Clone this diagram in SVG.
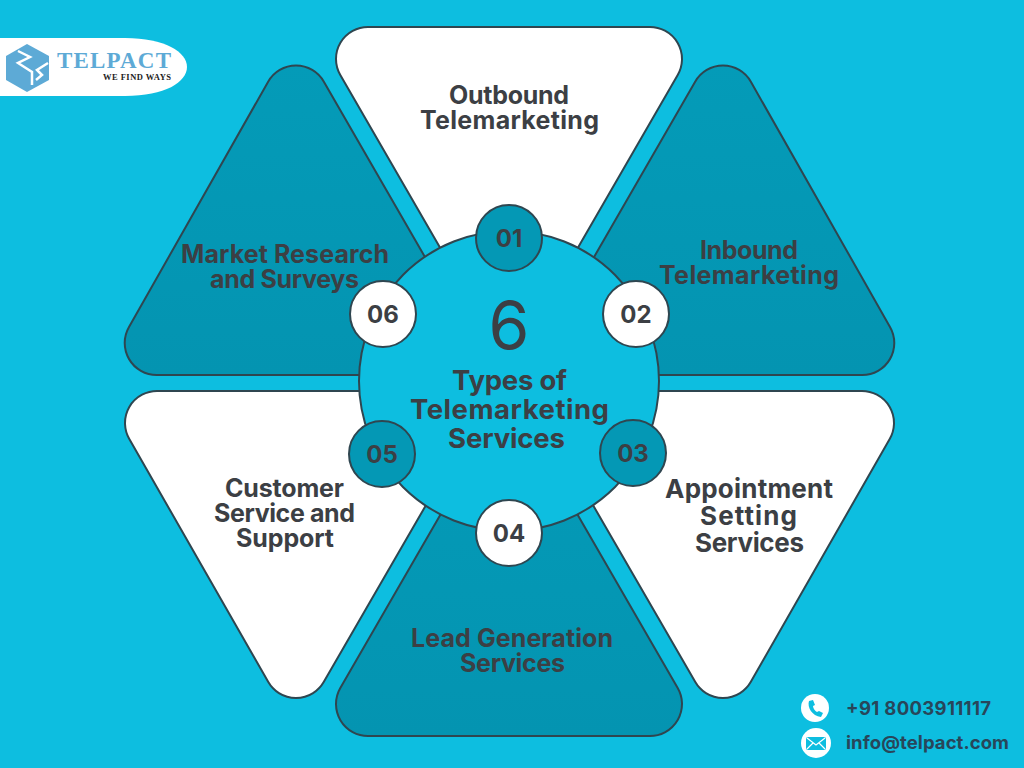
<svg xmlns="http://www.w3.org/2000/svg" width="1024" height="768" viewBox="0 0 1024 768">
<defs>
<style>
.t{font-family:"Inter","Liberation Sans",sans-serif;font-weight:700;fill:#3c3f44;text-anchor:middle}
.seg{stroke:#2f4650;stroke-width:2}
.w{fill:#fff}
.d{fill:#0498b5}
.n{stroke:#2f4650;stroke-width:2}
.num{font-size:24px}
.lab{font-size:25px}
.big{font-size:26px}
.hub{font-size:27.5px}
.c{font-family:"Inter","Liberation Sans",sans-serif;font-weight:700;font-size:18.5px;fill:#28465a}
</style>
<linearGradient id="dg" x1="0" y1="0" x2="0" y2="1"><stop offset="0" stop-color="#049bb8"/><stop offset="1" stop-color="#0494b1"/></linearGradient>
</defs>
<rect width="1024" height="768" fill="#0dbee0"/>
<g id="logo">
<path d="M0 38H125C165 38 187 52 187 67C187 82 165 96 125 96H0Z" fill="#fff"/>
<path d="M27 44L49 56V80L27 92L6 80V56Z" fill="#5daad6"/>
<path d="M18 51L30 57L18 63L32 72V85M48 63L37 70L42 75L36 80" fill="none" stroke="#fff" stroke-width="2.5"/>
<text x="57" y="68" font-family="Liberation Serif,serif" font-weight="700" font-size="23" fill="#5daad6" textLength="114">TELPACT</text>
<text x="103" y="80" font-family="Liberation Serif,serif" font-weight="700" font-size="8.5" fill="#1c1c1c" textLength="68">WE FIND WAYS</text>
</g>
<g id="segments">
<g id="seg-01"><path class="seg w" d="M369 27H650A32 32 0 0 1 677.7 75L509 367L340.3 75A32 32 0 0 1 369 27Z"/><text class="t lab" x="509" y="104" textLength="120">Outbound</text><text class="t lab" x="509.5" y="129" textLength="179">Telemarketing</text></g>
<g id="seg-02"><path class="seg" fill="url(#dg)" d="M695 82A32 32 0 0 1 751 82L890 327A32 32 0 0 1 862 375H526Z"/><text class="t lab" x="749" y="259" textLength="98">Inbound</text><text class="t lab" x="749" y="284" textLength="180">Telemarketing</text></g>
<g id="seg-03"><path class="seg w" d="M862 391A32 32 0 0 1 889.7 439L750.7 682A32 32 0 0 1 695.3 682L527 391Z"/><text class="t big" x="749" y="498" textLength="168">Appointment</text><text class="t big" x="748.500" y="525" textLength="97">Setting</text><text class="t big" x="749.500" y="552" textLength="109">Services</text></g>
<g id="seg-04"><path class="seg" fill="url(#dg)" d="M509 396L340.300 688A32 32 0 0 0 369 736H650A32 32 0 0 0 677.700 688Z"/><text class="t lab" x="512" y="647" textLength="202">Lead Generation</text><text class="t lab" x="512.500" y="672" textLength="105">Services</text></g>
<g id="seg-05"><path class="seg w" d="M157 391H492L323.700 682A32 32 0 0 1 268.300 682L129.300 439A32 32 0 0 1 157 391Z"/><text class="t lab" x="284.500" y="497" textLength="119">Customer</text><text class="t lab" x="284.500" y="522" textLength="141">Service and</text><text class="t lab" x="285" y="547" textLength="98">Support</text></g>
<g id="seg-06"><path class="seg" fill="url(#dg)" d="M268 82A32 32 0 0 1 324 82L493 375H157A32 32 0 0 1 129 327Z"/><text class="t lab" x="285" y="263" textLength="208">Market Research</text><text class="t lab" x="284.500" y="288" textLength="149">and Surveys</text></g>
</g>
<g id="hub">
<circle class="n" cx="509" cy="381" r="150" fill="#0dbee0"/>
<text x="509" y="349" text-anchor="middle" font-family="Inter,Liberation Sans,sans-serif" font-size="66" fill="#3c3f44">6</text>
<text class="t hub" x="509.500" y="390" textLength="115">Types of</text>
<text class="t hub" x="509.500" y="419" textLength="199">Telemarketing</text>
<text class="t hub" x="506.500" y="448" textLength="117">Services</text>
</g>
<g id="badge-01"><circle class="n d" cx="509" cy="238" r="33"/><text class="t num" x="509" y="247">01</text></g>
<g id="badge-02"><circle class="n w" cx="636" cy="314" r="33"/><text class="t num" x="636" y="323">02</text></g>
<g id="badge-03"><circle class="n d" cx="633" cy="453" r="33"/><text class="t num" x="633" y="462">03</text></g>
<g id="badge-04"><circle class="n w" cx="509" cy="533" r="33"/><text class="t num" x="509" y="542">04</text></g>
<g id="badge-05"><circle class="n d" cx="382" cy="454" r="33"/><text class="t num" x="382" y="463">05</text></g>
<g id="badge-06"><circle class="n w" cx="383" cy="314" r="33"/><text class="t num" x="383" y="323">06</text></g>
<g id="contact">
<circle cx="815" cy="708" r="14" fill="#fff"/>
<path d="M809 701C807 707 812 716 821 717L823 713L819 711L817 712C815 711 813 708 813 706L815 705L813 700Z" fill="#0dbee0"/>
<circle cx="816" cy="743" r="15" fill="#fff"/>
<rect x="806" y="737" width="20" height="13" rx="2" fill="#0dbee0"/>
<path d="M807 738L816 745L825 738M807 749L813 743M825 749L819 743" fill="none" stroke="#fff" stroke-width="1.200"/>
<text class="c" x="846" y="715" textLength="145">+91 8003911117</text>
<text class="c" x="846" y="749" textLength="163">info@telpact.com</text>
</g>
</svg>
